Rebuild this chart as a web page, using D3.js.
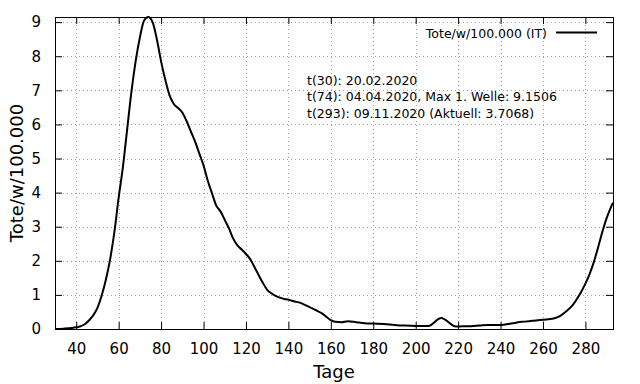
<!DOCTYPE html>
<html>
<head>
<meta charset="utf-8">
<script src="https://cdn.jsdelivr.net/npm/d3@7"></script>
<style>
  body { margin: 0; background: #fff; }
  text { font-family: "DejaVu Sans", sans-serif; fill: #000; }
  .grid line { stroke: #a0a0a0; stroke-width: 1; stroke-dasharray: 1,3; }
</style>
</head>
<body>
<div class="chart"></div>
<script>
// Data
var days = [30, 34, 38, 40, 42, 44, 46, 48, 50, 52, 54, 56, 58, 60, 62, 64, 66, 68, 70, 72,
  74, 76, 78, 80, 82, 84, 86, 88, 90, 92, 94, 96, 98, 100, 102, 104, 106, 108, 110, 112,
  114, 116, 118, 120, 122, 124, 126, 128, 130, 132, 134, 136, 138, 140, 142, 145, 148, 150, 153, 156,
  158, 160, 162, 165, 168, 172, 176, 180, 185, 190, 195, 200, 206, 212, 219, 222, 226, 230, 234, 240,
  245, 250, 255, 260, 265, 268, 271, 274, 277, 280, 282, 284, 286, 288, 290, 292, 293];
var deaths = [0.00, 0.01, 0.03, 0.05, 0.08, 0.14, 0.25, 0.40, 0.62, 0.98, 1.45, 2.05, 2.85, 3.85, 4.75, 5.85, 6.95, 7.85, 8.55, 9.05,
  9.1506, 9.0, 8.5, 7.85, 7.3, 6.85, 6.6, 6.48, 6.35, 6.1, 5.8, 5.5, 5.15, 4.8, 4.35, 3.98, 3.62, 3.45, 3.2, 2.95,
  2.65, 2.45, 2.33, 2.2, 2.05, 1.82, 1.58, 1.35, 1.15, 1.05, 0.97, 0.92, 0.88, 0.86, 0.82, 0.78, 0.70, 0.64, 0.55, 0.45,
  0.35, 0.26, 0.21, 0.20, 0.23, 0.20, 0.17, 0.16, 0.15, 0.12, 0.10, 0.09, 0.09, 0.32, 0.07, 0.08, 0.08, 0.10, 0.12, 0.12,
  0.16, 0.21, 0.24, 0.27, 0.31, 0.38, 0.52, 0.70, 0.98, 1.33, 1.62, 1.97, 2.4, 2.85, 3.25, 3.57, 3.7068];
var xTicks = [40, 60, 80, 100, 120, 140, 160, 180, 200, 220, 240, 260, 280];
var yTicks = [0, 1, 2, 3, 4, 5, 6, 7, 8, 9];
var seriesName = "Tote/w/100.000 (IT)";
var notes = ["t(30): 20.02.2020", "t(74): 04.04.2020, Max 1. Welle: 9.1506", "t(293): 09.11.2020 (Aktuell: 3.7068)"];

var svgWidth = 640;
var svgHeight = 384;

var margin = {
  top: 17,
  right: 27,
  bottom: 55,
  left: 55
};

var width = svgWidth - margin.left - margin.right;
var height = svgHeight - margin.top - margin.bottom;

var svg = d3.select(".chart")
  .append("svg")
  .attr("width", svgWidth)
  .attr("height", svgHeight);

var chartGroup = svg.append("g")
  .attr("transform", `translate(${margin.left}, ${margin.top})`);

var data = days.map((d, i) => ({ t: d, v: deaths[i] }));

// Scales
var xScale = d3.scaleLinear()
  .domain([30, 293])
  .range([0, width]);

var yScale = d3.scaleLinear()
  .domain([0, 9.1506])
  .range([height, 0]);

// Grid
chartGroup.append("g")
  .attr("class", "grid")
  .selectAll("line.h")
  .data(yTicks.filter(d => d > 0))
  .enter()
  .append("line")
  .attr("x1", 0)
  .attr("x2", width)
  .attr("y1", d => Math.round(yScale(d)) + 0.5)
  .attr("y2", d => Math.round(yScale(d)) + 0.5);

chartGroup.select(".grid")
  .selectAll("line.v")
  .data(xTicks)
  .enter()
  .append("line")
  .attr("y1", 0)
  .attr("y2", height)
  .attr("x1", d => Math.round(xScale(d)) + 0.5)
  .attr("x2", d => Math.round(xScale(d)) + 0.5);

// Axes with inward ticks, mirrored
var xAxis = d3.axisBottom(xScale).tickValues(xTicks).tickSizeInner(-7).tickSizeOuter(0).tickPadding(14);
var xAxisTop = d3.axisTop(xScale).tickValues(xTicks).tickSizeInner(-7).tickSizeOuter(0).tickFormat("");
var yAxis = d3.axisLeft(yScale).tickValues(yTicks).tickSizeInner(-7).tickSizeOuter(0).tickPadding(14);
var yAxisRight = d3.axisRight(yScale).tickValues(yTicks).tickSizeInner(-7).tickSizeOuter(0).tickFormat("");

var gx = chartGroup.append("g")
  .attr("transform", `translate(0, ${height})`)
  .call(xAxis);
chartGroup.append("g").call(xAxisTop);
var gy = chartGroup.append("g").call(yAxis);
chartGroup.append("g")
  .attr("transform", `translate(${width}, 0)`)
  .call(yAxisRight);

svg.selectAll(".domain").remove();
svg.selectAll(".tick line").attr("stroke", "#000");
gx.selectAll("text").attr("font-size", "15px").attr("font-family", "DejaVu Sans");
gy.selectAll("text").attr("font-size", "15px").attr("font-family", "DejaVu Sans");

// Frame
chartGroup.append("rect")
  .attr("x", 0.5)
  .attr("y", 0.5)
  .attr("width", width)
  .attr("height", height)
  .attr("fill", "none")
  .attr("stroke", "#000")
  .attr("stroke-width", 1);

// Curve
var line = d3.line()
  .x(d => xScale(d.t))
  .y(d => yScale(d.v))
  .curve(d3.curveMonotoneX);

chartGroup.append("path")
  .datum(data)
  .attr("d", line)
  .attr("fill", "none")
  .attr("stroke", "#000")
  .attr("stroke-width", 2)
  .attr("stroke-linejoin", "round");

// Legend
svg.append("text")
  .attr("x", 547)
  .attr("y", 37.5)
  .attr("text-anchor", "end")
  .attr("font-size", "12.5px")
  .text(seriesName);

svg.append("line")
  .attr("x1", 556)
  .attr("x2", 597)
  .attr("y1", 32.5)
  .attr("y2", 32.5)
  .attr("stroke", "#000")
  .attr("stroke-width", 2);

// Notes
svg.selectAll("text.note")
  .data(notes)
  .enter()
  .append("text")
  .attr("class", "note")
  .attr("x", 307)
  .attr("y", (d, i) => 84.5 + i * 16.8)
  .attr("font-size", "12.5px")
  .text(d => d);

// Axis labels
svg.append("text")
  .attr("transform", `translate(23, ${margin.top + height / 2}) rotate(-90)`)
  .attr("text-anchor", "middle")
  .attr("font-size", "18px")
  .text("Tote/w/100.000");

svg.append("text")
  .attr("x", margin.left + width / 2)
  .attr("y", 378)
  .attr("text-anchor", "middle")
  .attr("font-size", "18px")
  .text("Tage");
</script>
</body>
</html>
